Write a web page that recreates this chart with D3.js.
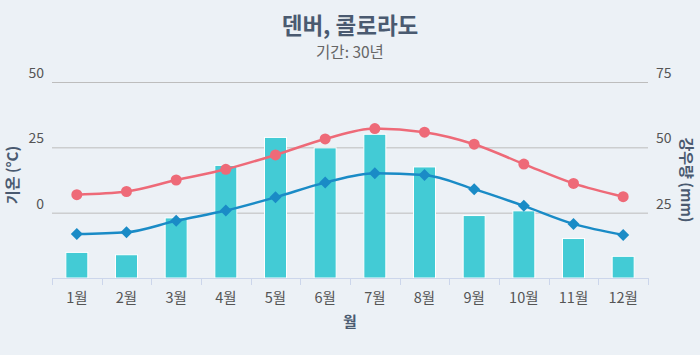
<!DOCTYPE html>
<html><head><meta charset="utf-8">
<script src="https://cdn.jsdelivr.net/npm/d3@7"></script>
<style>
html,body{margin:0;padding:0;background:#ecf1f6;}
svg{display:block;font-family:"Noto Sans CJK KR","Noto Sans",sans-serif;}
</style></head><body>
<svg id="c" width="700" height="355"></svg>
<script>
const months = ["1월","2월","3월","4월","5월","6월","7월","8월","9월","10월","11월","12월"];
const tempHigh = [6.9, 8.1, 12.5, 16.6, 22.1, 28.2, 32.2, 30.8, 26.2, 18.6, 11.2, 6.1];
const tempLow = [-8.2, -7.5, -3.1, 0.8, 5.9, 11.5, 15.1, 14.4, 9.0, 2.6, -4.3, -8.5];
const precip = [9.8, 8.9, 23.0, 43.1, 53.8, 49.8, 55.0, 42.5, 23.9, 25.7, 15.1, 8.3];
const tempTicks = [0, 25, 50];
const precipTicks = [25, 50, 75];

const svg = d3.select("#c");
const W = 700, H = 355;
const m = {left: 52, right: 52, top: 82, bottom: 77};
const x0 = m.left, x1 = W - m.right, yTop = m.top, yBot = H - m.bottom;

svg.append("rect").attr("width", W).attr("height", H).attr("fill", "#ecf1f6");

const x = d3.scaleBand().domain(months).range([x0, x1]).paddingInner(0).paddingOuter(0);
const yT = d3.scaleLinear().domain([-25, 50]).range([yBot, yTop]);
const yP = d3.scaleLinear().domain([0, 75]).range([yBot, yTop]);

// grid
svg.append("g").selectAll("line").data(tempTicks).join("line")
  .attr("x1", x0).attr("x2", x1)
  .attr("y1", d => yT(d) + 0.5).attr("y2", d => yT(d) + 0.5)
  .attr("stroke", "#bdbdbd").attr("stroke-width", 1);

// left axis labels
svg.append("g").selectAll("text").data(tempTicks).join("text")
  .attr("x", 44).attr("y", d => yT(d) - 4)
  .attr("text-anchor", "end").attr("font-size", 14).attr("fill", "#555")
  .text(d => d);
// right axis labels
svg.append("g").selectAll("text").data(precipTicks).join("text")
  .attr("x", 656).attr("y", d => yP(d) - 4)
  .attr("text-anchor", "start").attr("font-size", 14).attr("fill", "#555")
  .text(d => d);

// bars
const bw = 22;
svg.append("g").selectAll("rect").data(precip).join("rect")
  .attr("x", (d, i) => x(months[i]) + x.bandwidth() / 2 - bw / 2)
  .attr("y", d => yP(d))
  .attr("width", bw)
  .attr("height", d => yP(0) - yP(d))
  .attr("fill", "#43cbd5").attr("stroke", "#ffffff").attr("stroke-width", 1);

// x axis
const gx = svg.append("g").attr("transform", `translate(0,${yBot})`);
gx.append("line").attr("x1", x0).attr("x2", x1).attr("y1", 0.5).attr("y2", 0.5)
  .attr("stroke", "#ccd6eb").attr("stroke-width", 1);
const bounds = d3.range(13).map(i => i < 12 ? x(months[i]) : x1);
gx.selectAll("line.tk").data(bounds).join("line").attr("class", "tk")
  .attr("x1", d => Math.round(d) + 0.5).attr("x2", d => Math.round(d) + 0.5)
  .attr("y1", 0).attr("y2", 7).attr("stroke", "#ccd6eb");
gx.selectAll("text").data(months).join("text")
  .attr("x", d => x(d) + x.bandwidth() / 2).attr("y", 25)
  .attr("text-anchor", "middle").attr("font-size", 14.5).attr("fill", "#555")
  .text(d => d);

// lines
const line = (scale) => d3.line()
  .x((d, i) => x(months[i]) + x.bandwidth() / 2)
  .y(d => scale(d))
  .curve(d3.curveMonotoneX);

svg.append("path").datum(tempHigh).attr("d", line(yT))
  .attr("fill", "none").attr("stroke", "#ee6a78").attr("stroke-width", 2.5);
svg.append("path").datum(tempLow).attr("d", line(yT))
  .attr("fill", "none").attr("stroke", "#1a8bc6").attr("stroke-width", 2.5);

svg.append("g").selectAll("circle").data(tempHigh).join("circle")
  .attr("cx", (d, i) => x(months[i]) + x.bandwidth() / 2)
  .attr("cy", d => yT(d)).attr("r", 5.5).attr("fill", "#ee6a78");

const ds = 6;
svg.append("g").selectAll("path").data(tempLow).join("path")
  .attr("transform", (d, i) => `translate(${x(months[i]) + x.bandwidth() / 2},${yT(d)})`)
  .attr("d", `M0,${-ds}L${ds},0L0,${ds}L${-ds},0Z`)
  .attr("fill", "#1a8bc6");

// titles
svg.append("text").attr("x", 350).attr("y", 34).attr("text-anchor", "middle")
  .attr("font-size", 22.5).attr("font-weight", "bold").attr("fill", "#4a5a70")
  .text("덴버, 콜로라도");
svg.append("text").attr("x", 350).attr("y", 58).attr("text-anchor", "middle")
  .attr("font-size", 15.5).attr("fill", "#666")
  .text("기간: 30년");

svg.append("text").attr("x", 350).attr("y", 327).attr("text-anchor", "middle")
  .attr("font-size", 15).attr("font-weight", "bold").attr("fill", "#4a5a70")
  .text("월");

svg.append("text").attr("transform", `translate(18,${(yTop + yBot) / 2 - 5}) rotate(-90)`)
  .attr("text-anchor", "middle").attr("font-size", 15).attr("font-weight", "bold").attr("fill", "#4a5a70")
  .text("기온 (°C)");
svg.append("text").attr("transform", `translate(681,${(yTop + yBot) / 2}) rotate(90)`)
  .attr("text-anchor", "middle").attr("font-size", 15).attr("font-weight", "bold").attr("fill", "#4a5a70")
  .text("강우량 (mm)");
</script></body></html>
